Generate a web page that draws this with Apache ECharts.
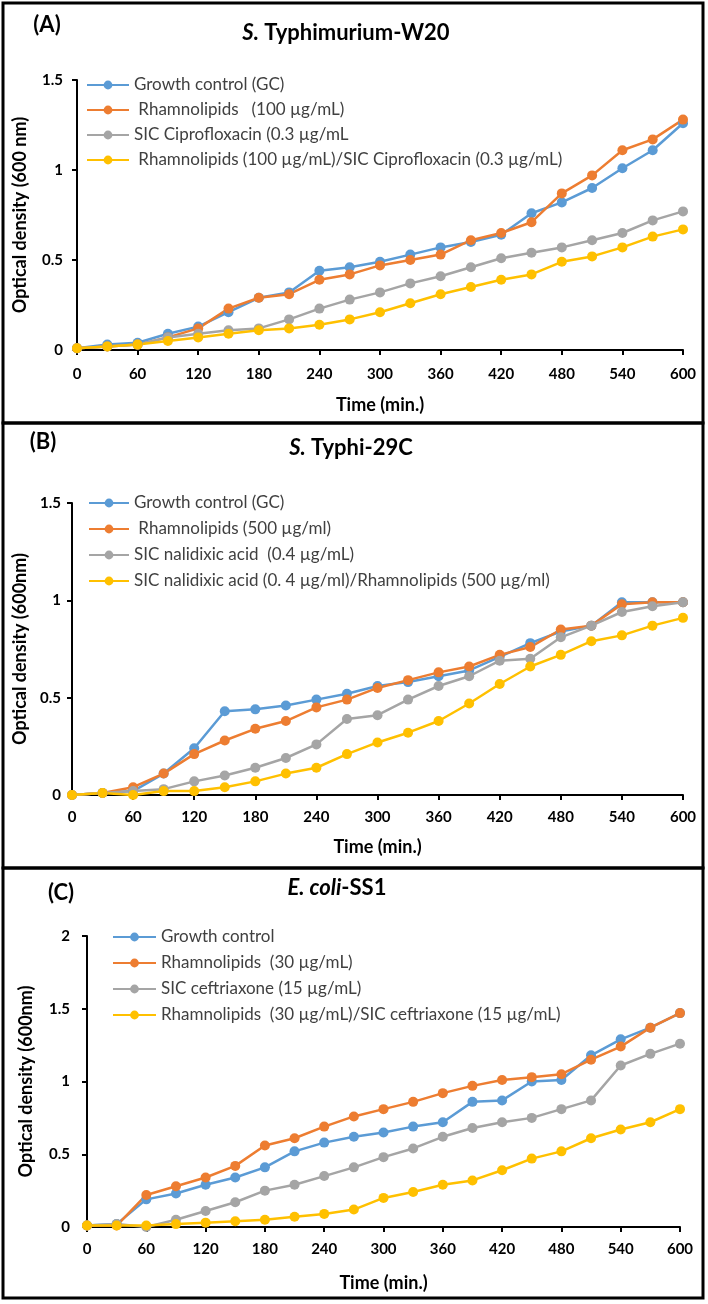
<!DOCTYPE html>
<html>
<head>
<meta charset="utf-8">
<script src="https://cdn.jsdelivr.net/npm/echarts@6/dist/echarts.min.js"></script>
<style>
html,body{margin:0;padding:0;background:#fff;}
#chart{width:708px;height:1304px;}
</style>
</head>
<body>
<div id="chart"></div>
<script>
const TIME = [0,30,60,90,120,150,180,210,240,270,300,330,360,390,420,450,480,510,540,570,600];

// Panel A: S. Typhimurium-W20
const A_NAMES = ['Growth control (GC)', ' Rhamnolipids   (100 µg/mL)', 'SIC Ciprofloxacin (0.3 µg/mL', ' Rhamnolipids (100 µg/mL)/SIC Ciprofloxacin (0.3 µg/mL)'];
const A_GC    = [0.01,0.03,0.04,0.09,0.13,0.21,0.29,0.32,0.44,0.46,0.49,0.53,0.57,0.60,0.64,0.76,0.82,0.90,1.01,1.11,1.26];
const A_RHL   = [0.01,0.02,0.03,0.07,0.12,0.23,0.29,0.31,0.39,0.42,0.47,0.50,0.53,0.61,0.65,0.71,0.87,0.97,1.11,1.17,1.28];
const A_SIC   = [0.01,0.02,0.03,0.07,0.09,0.11,0.12,0.17,0.23,0.28,0.32,0.37,0.41,0.46,0.51,0.54,0.57,0.61,0.65,0.72,0.77];
const A_COMBO = [0.01,0.02,0.03,0.05,0.07,0.09,0.11,0.12,0.14,0.17,0.21,0.26,0.31,0.35,0.39,0.42,0.49,0.52,0.57,0.63,0.67];

// Panel B: S. Typhi-29C
const B_NAMES = ['Growth control (GC)', ' Rhamnolipids (500 µg/ml)', 'SIC nalidixic acid  (0.4 µg/mL)', 'SIC nalidixic acid (0. 4 µg/ml)/Rhamnolipids (500 µg/ml)'];
const B_GC    = [0,0.01,0.02,0.11,0.24,0.43,0.44,0.46,0.49,0.52,0.56,0.58,0.61,0.64,0.71,0.78,0.84,0.87,0.99,0.99,0.99];
const B_RHL   = [0,0.01,0.04,0.11,0.21,0.28,0.34,0.38,0.45,0.49,0.55,0.59,0.63,0.66,0.72,0.76,0.85,0.87,0.98,0.99,0.99];
const B_SIC   = [0,0.01,0.02,0.03,0.07,0.10,0.14,0.19,0.26,0.39,0.41,0.49,0.56,0.61,0.69,0.70,0.81,0.87,0.94,0.97,0.99];
const B_COMBO = [0,0.01,0,0.02,0.02,0.04,0.07,0.11,0.14,0.21,0.27,0.32,0.38,0.47,0.57,0.66,0.72,0.79,0.82,0.87,0.91];

// Panel C: E. coli-SS1
const C_NAMES = ['Growth control', 'Rhamnolipids  (30 µg/mL)', 'SIC ceftriaxone (15 µg/mL)', 'Rhamnolipids  (30 µg/mL)/SIC ceftriaxone (15 µg/mL)'];
const C_GC    = [0.01,0.02,0.19,0.23,0.29,0.34,0.41,0.52,0.58,0.62,0.65,0.69,0.72,0.86,0.87,1.00,1.01,1.18,1.29,1.37,1.47];
const C_RHL   = [0.01,0.01,0.22,0.28,0.34,0.42,0.56,0.61,0.69,0.76,0.81,0.86,0.92,0.97,1.01,1.03,1.05,1.15,1.24,1.37,1.47];
const C_SIC   = [0.01,0.02,0.00,0.05,0.11,0.17,0.25,0.29,0.35,0.41,0.48,0.54,0.62,0.68,0.72,0.75,0.81,0.87,1.11,1.19,1.26];
const C_COMBO = [0.01,0.01,0.01,0.02,0.03,0.04,0.05,0.07,0.09,0.12,0.20,0.24,0.29,0.32,0.39,0.47,0.52,0.61,0.67,0.72,0.81];

const COLORS = ['#5B9BD5','#ED7D31','#A5A5A5','#FFC000'];
const FONT = 'Lato, "Open Sans", sans-serif';

function mkSeries(names, arrays, idx) {
  return arrays.map((arr, k) => ({
    type: 'line',
    name: names[k],
    xAxisIndex: idx,
    yAxisIndex: idx,
    data: TIME.map((t, i) => [t, arr[i]]),
    symbol: 'circle',
    symbolSize: 10,
    lineStyle: { width: 2.5, color: COLORS[k] },
    itemStyle: { color: COLORS[k] },
    emphasis: { disabled: true }
  }));
}

function mkX(gi, labelMargin, nameGap) {
  return {
    gridIndex: gi,
    type: 'value', min: 0, max: 600, interval: 60,
    axisLine: { lineStyle: { color: '#000', width: 2 } },
    axisTick: { show: true, inside: false, length: 5, lineStyle: { color: '#000', width: 2 } },
    axisLabel: { color: '#000', fontWeight: 'bold', fontSize: 15, fontFamily: FONT, margin: labelMargin },
    splitLine: { show: false },
    name: 'Time (min.)', nameLocation: 'middle', nameGap: nameGap,
    nameTextStyle: { color: '#000', fontWeight: 'bold', fontSize: 18, fontFamily: FONT }
  };
}
function mkY(gi, max, name, labelMargin, nameGap) {
  return {
    gridIndex: gi,
    type: 'value', min: 0, max: max, interval: 0.5,
    axisLine: { show: true, lineStyle: { color: '#000', width: 2 } },
    axisTick: { show: true, inside: false, length: 5, lineStyle: { color: '#000', width: 2 } },
    axisLabel: { color: '#000', fontWeight: 'bold', fontSize: 15, fontFamily: FONT, margin: labelMargin },
    splitLine: { show: false },
    name: name, nameLocation: 'middle', nameGap: nameGap,
    nameTextStyle: { color: '#000', fontWeight: 'bold', fontSize: 18, fontFamily: FONT }
  };
}
function mkLegend(names, left, top, itemWidth, itemGap) {
  return {
    orient: 'vertical', left: left, top: top, padding: 0,
    itemWidth: itemWidth, itemHeight: 11, itemGap: itemGap,
    data: names,
    textStyle: { fontFamily: FONT, fontSize: 17, color: '#404040', lineHeight: 18 },
    selectedMode: false
  };
}
function frame(y, h) {
  return { type: 'rect', shape: { x: 3, y: y, width: 700, height: h }, style: { fill: 'none', stroke: '#000', lineWidth: 3 }, silent: true };
}
function label(txt, x, y) {
  return { type: 'text', x: x, y: y, style: { text: txt, fill: '#000', font: 'bold 22px ' + FONT, align: 'center', verticalAlign: 'middle' } };
}
function title(txt, x, y) {
  return { type: 'text', x: x, y: y, style: {
    text: txt, fill: '#000', align: 'center', verticalAlign: 'middle',
    font: 'bold 22px ' + FONT,
    rich: {
      i: { fontStyle: 'italic', fontWeight: 'bold', fontSize: 22, fontFamily: FONT, fill: '#000' },
      n: { fontWeight: 'bold', fontSize: 22, fontFamily: FONT, fill: '#000' }
    }
  } };
}

const chart = echarts.init(document.getElementById('chart'), null, { renderer: 'canvas' });
chart.setOption({
  animation: false,
  backgroundColor: '#fff',
  grid: [
    { left: 77, width: 606, top: 80, height: 270 },
    { left: 72, width: 611, top: 503, height: 292 },
    { left: 87, width: 593, top: 936, height: 291 }
  ],
  xAxis: [ mkX(0, 17, 46), mkX(1, 15, 43), mkX(2, 15, 47) ],
  yAxis: [
    mkY(0, 1.5, 'Optical density (600 nm)', 14, 48),
    mkY(1, 1.5, 'Optical density (600nm)', 11, 40),
    mkY(2, 2, 'Optical density (600nm)', 17, 52)
  ],
  legend: [
    mkLegend(A_NAMES, 86, 76, 42, 7),
    mkLegend(B_NAMES, 88, 494, 40, 8),
    mkLegend(C_NAMES, 112, 928, 43, 8)
  ],
  graphic: [
    frame(3, 420), frame(423, 445), frame(868, 430),
    label('(A)', 47, 25), label('(B)', 43, 442), label('(C)', 61, 893),
    title('{i|S.}{n| Typhimurium-W20}', 346, 33),
    title('{i|S.}{n| Typhi-29C}', 351, 448),
    title('{i|E. coli}{n|-SS1}', 337, 888)
  ],
  series: [].concat(
    mkSeries(A_NAMES, [A_GC, A_RHL, A_SIC, A_COMBO], 0),
    mkSeries(B_NAMES, [B_GC, B_RHL, B_SIC, B_COMBO], 1),
    mkSeries(C_NAMES, [C_GC, C_RHL, C_SIC, C_COMBO], 2)
  )
});
</script>
</body>
</html>
